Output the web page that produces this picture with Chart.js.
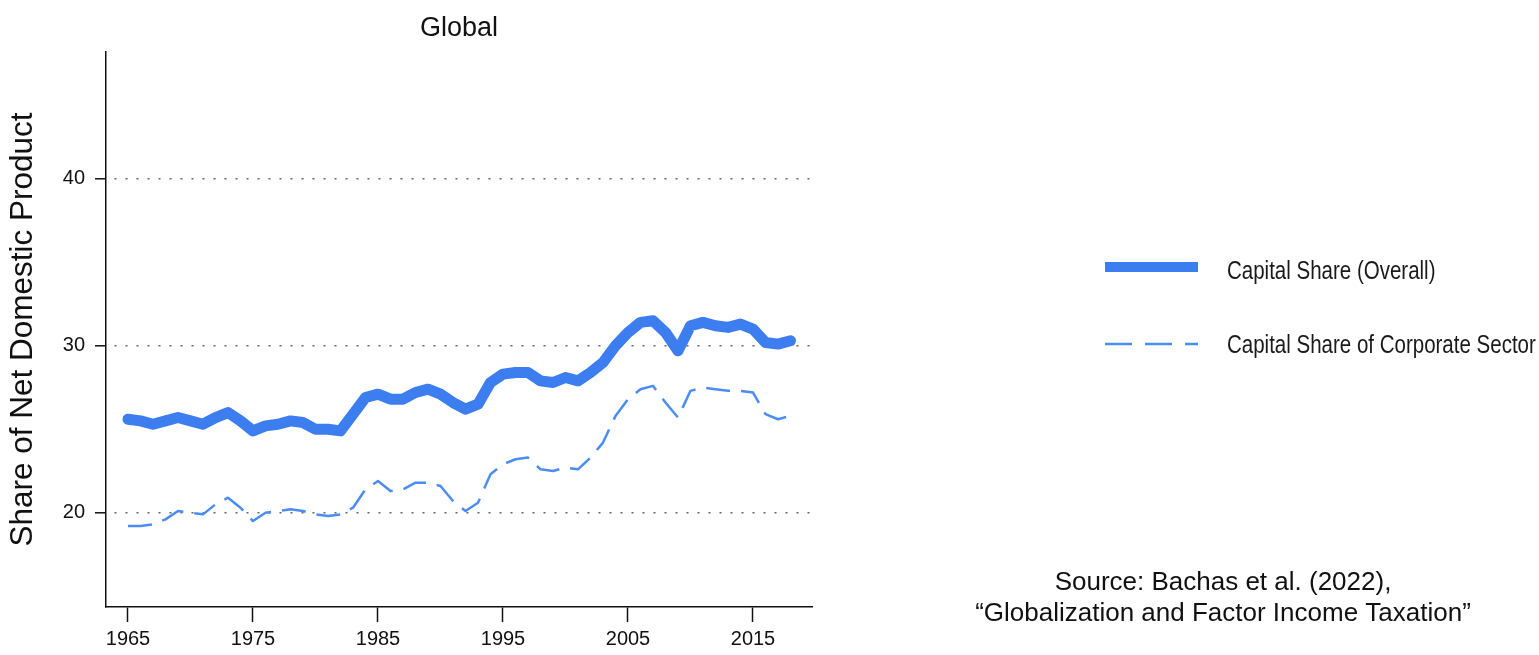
<!DOCTYPE html>
<html>
<head>
<meta charset="utf-8">
<script src="https://cdn.jsdelivr.net/npm/chart.js@4.4.0/dist/chart.umd.min.js"></script>
<style>
html,body{margin:0;padding:0;background:#ffffff;}
#wrap{width:1539px;height:655px;position:relative;}
</style>
</head>
<body>
<div id="wrap"><canvas id="c" width="1539" height="655"></canvas></div>
<script>
// ---- data ----
const years = [1965,1966,1967,1968,1969,1970,1971,1972,1973,1974,
  1975,1976,1977,1978,1979,1980,1981,1982,1983,1984,
  1985,1986,1987,1988,1989,1990,1991,1992,1993,1994,
  1995,1996,1997,1998,1999,2000,2001,2002,2003,2004,
  2005,2006,2007,2008,2009,2010,2011,2012,2013,2014,
  2015,2016,2017,2018];
const capitalShareOverall = [25.6,25.5,25.3,25.5,25.7,25.5,25.3,25.7,26.0,25.5,
  24.9,25.2,25.3,25.5,25.4,25.0,25.0,24.9,25.9,26.9,
  27.1,26.8,26.8,27.2,27.4,27.1,26.6,26.2,26.5,27.8,
  28.3,28.4,28.4,27.9,27.8,28.1,27.9,28.4,29.0,30.0,
  30.8,31.4,31.5,30.8,29.7,31.2,31.4,31.2,31.1,31.3,
  31.0,30.2,30.1,30.3];
const capitalShareCorporate = [19.2,19.2,19.3,19.6,20.1,20.0,19.9,20.5,20.9,20.3,
  19.5,20.0,20.1,20.2,20.1,19.9,19.8,19.9,20.3,21.4,
  21.9,21.3,21.4,21.8,21.8,21.6,20.7,20.1,20.6,22.3,
  22.9,23.2,23.3,22.6,22.5,22.7,22.6,23.3,24.2,25.8,
  26.8,27.4,27.6,26.6,25.7,27.3,27.5,27.4,27.3,27.3,
  27.2,25.9,25.6,25.8];
const xTickYears = [1965,1975,1985,1995,2005,2015];
const yTickValues = [20,30,40];
const seriesLabels = ['Capital Share (Overall)','Capital Share of Corporate Sector'];
const chartTitle = 'Global';
const yAxisTitle = 'Share of Net Domestic Product';
const sourceLines = ['Source: Bachas et al. (2022),','\u201CGlobalization and Factor Income Taxation\u201D'];

// ---- styles ----
const BLUE_THICK = '#3C7EF0';
const BLUE_DASH = '#4A8DF6';
const SANS = '"Liberation Sans", Arial, Helvetica, sans-serif';

const toPoints = (vals) => years.map((yr, i) => ({x: yr, y: vals[i]}));

function narrowText(ctx, text, x, y, sx) {
  ctx.save();
  ctx.translate(x, y);
  ctx.scale(sx, 1);
  ctx.fillText(text, 0, 0);
  ctx.restore();
}

const sidePlugin = {
  id: 'sideText',
  afterDraw(chart) {
    const ctx = chart.ctx;
    ctx.save();
    // legend
    ctx.lineCap = 'butt';
    ctx.strokeStyle = BLUE_THICK;
    ctx.lineWidth = 10;
    ctx.setLineDash([]);
    ctx.beginPath(); ctx.moveTo(1105, 267); ctx.lineTo(1198, 267); ctx.stroke();
    ctx.strokeStyle = BLUE_DASH;
    ctx.lineWidth = 2.5;
    ctx.setLineDash([27, 13]);
    ctx.beginPath(); ctx.moveTo(1105, 344); ctx.lineTo(1198, 344); ctx.stroke();
    ctx.setLineDash([]);
    ctx.fillStyle = '#1a1a1a';
    ctx.font = '25px ' + SANS;
    ctx.textAlign = 'left';
    ctx.textBaseline = 'middle';
    narrowText(ctx, seriesLabels[0], 1227, 272, 0.82);
    narrowText(ctx, seriesLabels[1], 1227, 346, 0.82);
    // source
    ctx.font = '26px ' + SANS;
    ctx.textAlign = 'center';
    ctx.fillStyle = '#111111';
    ctx.fillText(sourceLines[0], 1223, 583);
    ctx.fillText(sourceLines[1], 1223, 614);
    ctx.restore();
  }
};

new Chart(document.getElementById('c'), {
  type: 'line',
  data: {
    datasets: [
      {
        label: seriesLabels[0],
        data: toPoints(capitalShareOverall),
        borderColor: BLUE_THICK,
        backgroundColor: BLUE_THICK,
        borderWidth: 11,
        pointRadius: 0,
        tension: 0,
        borderJoinStyle: 'round',
        borderCapStyle: 'round',
        fill: false
      },
      {
        label: seriesLabels[1],
        data: toPoints(capitalShareCorporate),
        borderColor: BLUE_DASH,
        backgroundColor: BLUE_DASH,
        borderWidth: 2.5,
        borderDash: [24, 11],
        pointRadius: 0,
        tension: 0,
        borderJoinStyle: 'round',
        fill: false
      }
    ]
  },
  options: {
    responsive: false,
    animation: false,
    devicePixelRatio: 1,
    layout: { padding: { left: 0, right: 727, top: 0, bottom: 0 } },
    plugins: {
      legend: { display: false },
      tooltip: { enabled: false },
      title: {
        display: true,
        text: chartTitle,
        fullSize: false,
        color: '#111111',
        font: { family: SANS, size: 27, weight: 'normal', lineHeight: 1.2 },
        padding: { top: 12, bottom: 7.6 }
      }
    },
    scales: {
      x: {
        type: 'linear',
        min: 1963.24,
        max: 2019.72,
        afterBuildTicks: (s) => { s.ticks = xTickYears.map(v => ({value: v})); },
        afterFit: (s) => { s.height = 48; },
        grid: { display: true, drawOnChartArea: false, drawTicks: true, tickLength: 15, tickColor: '#111', tickWidth: 1.5 },
        border: { display: true, color: '#111', width: 1.5 },
        ticks: {
          color: '#111',
          padding: 5,
          maxRotation: 0,
          autoSkip: false,
          font: { family: SANS, size: 20 },
          callback: (v) => String(v)
        }
      },
      y: {
        type: 'linear',
        min: 14.35,
        max: 47.6,
        afterBuildTicks: (s) => { s.ticks = yTickValues.map(v => ({value: v})); },
        afterFit: (s) => { s.width = 106; },
        grid: { display: true, drawOnChartArea: true, drawTicks: true, tickLength: 11, color: '#666', lineWidth: 1.6, tickColor: '#111', tickWidth: 1.5 },
        border: { display: true, color: '#111', width: 1.5, dash: [2, 9], dashOffset: -8 },
        ticks: {
          color: '#111',
          padding: 10,
          font: { family: SANS, size: 20 },
          callback: (v) => String(v)
        },
        title: {
          display: true,
          text: yAxisTitle,
          color: '#111',
          font: { family: SANS, size: 31.5, lineHeight: 1.2 },
          padding: { top: 4, bottom: 0 }
        }
      }
    }
  },
  plugins: [sidePlugin]
});
</script>
</body>
</html>
